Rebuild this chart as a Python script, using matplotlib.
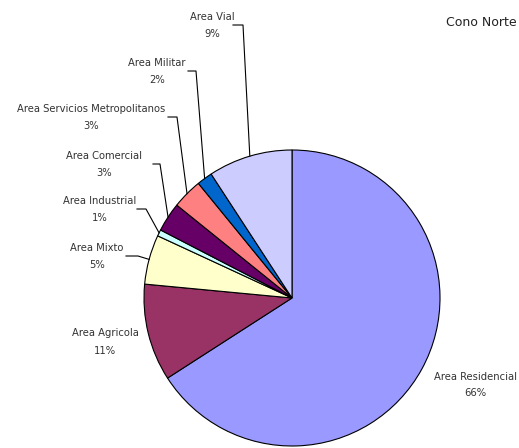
import numpy as np
import matplotlib.pyplot as plt

# Cono Norte - uso de suelo
areas = ['Area Residencial', 'Area Agricola', 'Area Mixto', 'Area Industrial',
         'Area Comercial', 'Area Servicios Metropolitanos', 'Area Militar', 'Area Vial']
shares = [65.9, 10.6, 5.4, 0.7, 3.2, 3.3, 1.7, 9.2]
colors = ['#9999FF', '#993366', '#FFFFCC', '#CCFFFF', '#660066', '#FF8080', '#0066CC', '#CCCCFF']

# label text centres (image pixels) and the x where the leader starts / bends
label_pos = [(475, 385), (105, 342), (97, 256), (100, 209),
             (104, 164), (91, 117), (157, 71), (212, 25)]
leader_x = [None, None, (126, 138), (137, 146), (153, 160), (168, 177), (188, 196), (233, 243)]

W, H = 519, 448
cx, cy, r = 292, H - 298, 148

fig = plt.figure(figsize=(W / 100, H / 100), dpi=100)
ax = fig.add_axes([0, 0, 1, 1])

wedges, _ = ax.pie(shares, colors=colors, startangle=90, counterclock=False,
                   center=(cx, cy), radius=r,
                   wedgeprops=dict(edgecolor='black', linewidth=0.8))
ax.set_xlim(0, W)
ax.set_ylim(0, H)
ax.set_aspect('equal')
ax.axis('off')

txt = dict(ha='center', va='center', fontsize=7.2, color='#333333')
for w, name, val, (tx, ty), lx in zip(wedges, areas, shares, label_pos, leader_x):
    ax.text(tx, H - ty + 8.5, name, **txt)
    ax.text(tx, H - ty - 8.5, f'{round(val):.0f}%', **txt)
    if lx is None:
        continue
    mid = np.deg2rad((w.theta1 + w.theta2) / 2)
    axp, ayp = cx + r * np.cos(mid), cy + r * np.sin(mid)
    ly = H - ty
    ax.plot([lx[0], lx[1], axp], [ly, ly, ayp], color='black', lw=0.8)

ax.text(481, H - 22, 'Cono Norte', ha='center', va='center', fontsize=9, color='#222222')

fig.savefig('out.png', dpi=100)
